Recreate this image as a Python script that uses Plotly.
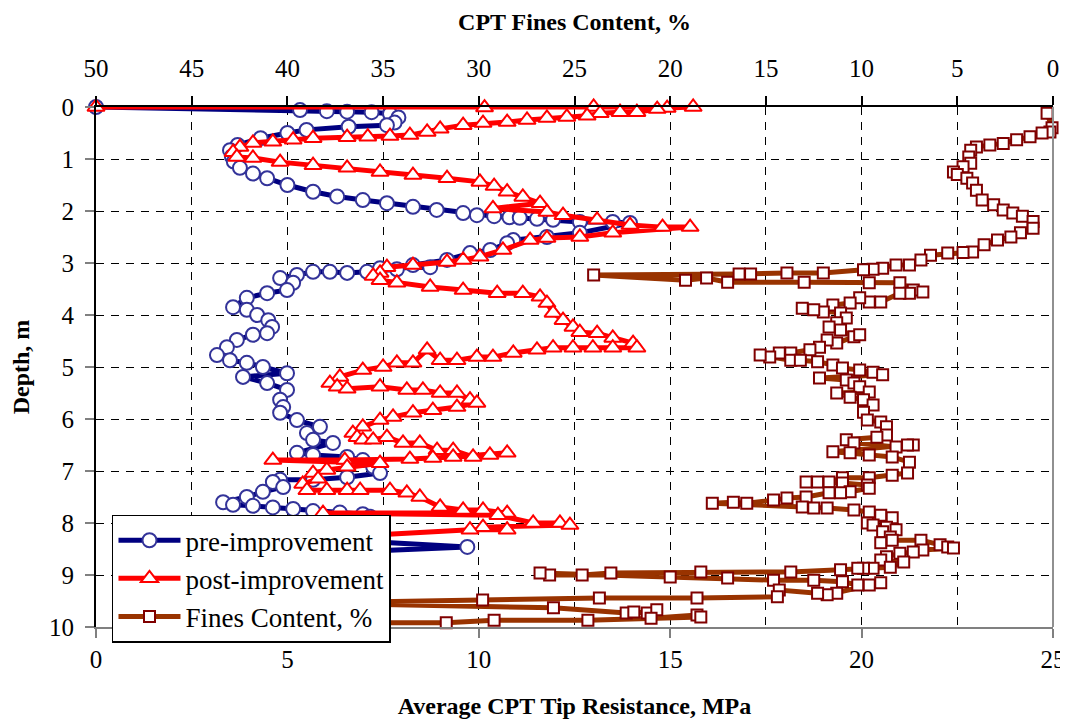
import plotly.graph_objects as go

# ---------------- data ----------------
pre_depth = [0.00, 0.06, 0.08, 0.09, 0.10, 0.13, 0.20, 0.30, 0.35, 0.38, 0.44, 0.50, 0.60, 0.73, 0.83,
             0.95, 1.05, 1.17, 1.28, 1.37, 1.50, 1.63, 1.72, 1.79, 1.85, 1.92, 1.98, 2.04, 2.08, 2.10,
             2.12, 2.13, 2.15, 2.17, 2.21, 2.21, 2.23, 2.42, 2.50, 2.56, 2.62, 2.75, 2.81, 2.94, 3.04,
             3.08, 3.10, 3.12, 3.17, 3.19, 3.17, 3.17, 3.23, 3.29, 3.38, 3.52, 3.58, 3.67, 3.85, 3.90,
             4.00, 4.10, 4.23, 4.35, 4.38, 4.48, 4.62, 4.77, 4.87, 4.92, 5.00, 5.12, 5.19, 5.31, 5.44,
             5.63, 5.77, 5.88, 6.02, 6.15, 6.27, 6.40, 6.46, 6.65, 6.69, 6.73, 6.79, 6.92, 7.04, 7.12,
             7.17, 7.17, 7.21, 7.31, 7.40, 7.50, 7.60, 7.65, 7.67, 7.70, 7.73, 7.77, 7.80, 7.83, 7.88,
             7.95, 8.05, 8.15, 8.25, 8.35, 8.46, 8.55, 8.65, 8.80, 8.95, 9.10, 9.25, 9.40, 9.55, 9.70,
             9.92, 10.02]
pre_q = [0.0, 5.33, 6.03, 6.56, 7.2, 7.68, 7.9, 7.8, 7.6, 6.6, 5.5, 5.0, 4.3, 3.7, 3.5,
         3.55, 3.6, 3.76, 4.1, 4.47, 5.0, 5.67, 6.3, 6.97, 7.6, 8.28, 8.9, 9.59, 9.95, 10.4,
         10.8, 11.07, 11.52, 11.94, 12.64, 13.5, 13.95, 12.64, 11.78, 10.9, 10.74, 10.3, 9.77, 9.17, 8.28,
         8.73, 7.42, 7.86, 7.08, 6.56, 6.11, 5.67, 5.25, 4.81, 5.15, 4.99, 4.47, 3.94, 3.58, 3.94,
         4.21, 4.5, 4.6, 4.47, 4.1, 3.68, 3.42, 3.16, 3.5, 3.94, 4.36, 4.99, 3.84, 4.47, 4.99,
         4.81, 4.89, 4.81, 5.25, 5.85, 5.51, 5.67, 6.19, 5.25, 5.67, 6.56, 6.97, 7.24, 7.42, 6.56,
         5.67, 4.81, 4.62, 4.89, 4.36, 3.94, 3.32, 3.58, 4.1, 4.62, 5.15, 5.67, 6.37, 6.97, 7.16,
         6.9, 6.7, 6.9, 6.8, 7.0, 9.7, 6.9, 6.5, 6.2, 5.8, 5.4, 5.0, 4.7, 4.3, 3.8,
         3.2, 1.36]

post_depth = [0.00, 0.01, 0.00, 0.00, 0.02, 0.04, 0.10, 0.10, 0.12, 0.17, 0.19, 0.21, 0.25, 0.29, 0.31,
              0.35, 0.42, 0.48, 0.54, 0.56, 0.57, 0.58, 0.60, 0.63, 0.67, 0.69, 0.77, 0.87, 0.96, 0.98,
              1.06, 1.12, 1.17, 1.25, 1.31, 1.37, 1.44, 1.52, 1.63, 1.73, 1.85, 1.95, 2.02, 2.08, 2.17,
              2.27, 2.31, 2.31, 2.42, 2.50, 2.52, 2.56, 2.75, 2.88, 2.94, 2.98, 3.04, 3.08, 3.19, 3.25,
              3.33, 3.38, 3.46, 3.52, 3.58, 3.58, 3.65, 3.77, 3.96, 4.10, 4.23, 4.33, 4.35, 4.44, 4.54,
              4.63, 4.63, 4.63, 4.63, 4.63, 4.67, 4.73, 4.81, 4.81, 4.87, 4.87, 4.67, 4.92, 4.92, 5.00,
              5.06, 5.19, 5.31, 5.38, 5.42, 5.38, 5.44, 5.44, 5.50, 5.50, 5.63, 5.69, 5.77, 5.83, 5.88,
              5.96, 6.02, 6.15, 6.27, 6.35, 6.40, 6.40, 6.35, 6.46, 6.46, 6.60, 6.60, 6.73, 6.69, 6.65,
              6.73, 6.75, 6.77, 6.79, 6.79, 6.85, 6.92, 6.98, 7.04, 7.15, 7.25, 7.37, 7.37, 7.37, 7.37,
              7.37, 7.42, 7.50, 7.69, 7.75, 7.75, 7.81, 7.81, 7.85, 8.00, 8.00, 8.04, 8.08, 8.13, 8.13,
              8.25, 8.40, 8.60, 8.80, 9.00, 9.20, 9.40, 9.60, 9.78]
post_q = [0.0, 10.15, 13.0, 15.6, 14.92, 14.66, 14.13, 13.69, 13.17, 12.83, 12.3, 11.78, 11.26, 10.74, 10.11,
          9.59, 8.99, 8.65, 8.2, 7.68, 7.1, 6.56, 5.67, 5.15, 4.62, 4.1, 3.76, 3.58, 3.68, 4.1,
          4.81, 5.67, 6.56, 7.42, 8.28, 9.17, 10.03, 10.4, 10.74, 11.15, 11.6, 10.37, 11.78, 12.2, 13.09,
          13.95, 14.8, 15.52, 13.5, 12.64, 11.78, 11.34, 10.63, 10.03, 9.59, 9.17, 8.28, 7.6, 7.42, 7.24,
          7.42, 7.86, 8.73, 9.59, 10.48, 11.15, 11.6, 11.78, 11.94, 12.2, 12.46, 12.64, 13.09, 13.5, 14.03,
          14.13, 13.5, 12.98, 12.46, 11.94, 11.52, 10.9, 10.37, 9.95, 9.43, 8.99, 8.65, 8.28, 7.86, 7.5,
          6.97, 6.37, 6.11, 6.3, 6.56, 7.42, 8.12, 8.54, 8.99, 9.43, 9.77, 9.95, 9.43, 8.8, 8.28,
          7.76, 7.42, 6.97, 6.71, 6.82, 6.97, 7.24, 7.6, 8.02, 8.46, 8.91, 9.33, 9.85, 10.29, 10.74,
          9.33, 8.8, 8.2, 6.5, 4.62, 7.42, 6.56, 6.03, 5.67, 5.8, 5.4, 5.51, 6.03, 6.56, 6.9,
          7.68, 8.12, 8.46, 8.99, 9.59, 10.11, 10.74, 5.93, 10.5, 11.42, 12.12, 12.38, 10.11, 10.74, 9.77,
          6.8, 6.2, 5.9, 5.5, 6.0, 5.2, 4.9, 5.3, 4.8]

fines_depth = [0.12, 0.40, 0.48, 0.50, 0.57, 0.63, 0.70, 0.73, 0.77, 0.83, 0.96, 1.08, 1.15, 1.25, 1.30,
               1.37, 1.46, 1.60, 1.79, 1.88, 1.98, 2.04, 2.10, 2.20, 2.33, 2.42, 2.50, 2.56, 2.65, 2.79,
               2.80, 2.81, 2.85, 2.94, 3.04, 3.04, 3.10, 3.12, 3.13, 3.19, 3.19, 3.21, 3.21, 3.23, 3.33,
               3.29, 3.37, 3.37, 3.38, 3.38, 3.52, 3.56, 3.58, 3.58, 3.75, 3.75, 3.67, 3.77, 3.81, 3.94,
               3.90, 3.87, 3.96, 4.06, 4.15, 4.23, 4.29, 4.42, 4.38, 4.54, 4.48, 4.62, 4.67, 4.73, 4.73,
               4.81, 4.77, 4.87, 4.87, 4.90, 4.96, 5.02, 5.06, 5.10, 5.15, 5.21, 5.25, 5.31, 5.38, 5.48,
               5.50, 5.58, 5.63, 5.73, 5.87, 6.02, 6.06, 6.15, 6.31, 6.35, 6.40, 6.46, 6.54, 6.50, 6.50,
               6.63, 6.65, 6.69, 6.73, 6.83, 7.04, 7.08, 7.13, 7.13, 7.21, 7.21, 7.21, 7.23, 7.27, 7.33,
               7.40, 7.42, 7.42, 7.50, 7.52, 7.56, 7.62, 7.60, 7.62, 7.69, 7.71, 7.71, 7.75, 7.79, 7.85,
               7.90, 8.00, 8.04, 8.08, 8.13, 8.17, 8.27, 8.38, 8.33, 8.33, 8.42, 8.46, 8.48, 8.52, 8.56,
               8.58, 8.65, 8.71, 8.75, 8.85, 8.87, 8.87, 8.87, 8.90, 8.94, 8.94, 8.96, 9.00, 9.00, 8.96,
               9.04, 9.06, 9.10, 9.10, 9.13, 9.19, 9.19, 9.15, 9.35, 9.38, 9.35, 9.29, 9.42, 9.44, 9.44,
               9.48, 9.54, 9.63, 9.73, 9.71, 9.73, 9.67, 9.83, 9.77, 9.81, 9.87, 9.87, 9.92, 9.92, 9.96,
               10.02]
fines_pct = [0.31, 0.05, 0.16, 0.57, 1.2, 1.9, 2.6, 3.3, 4.0, 4.3, 4.4, 4.3, 4.7, 5.2, 5.0,
             4.5, 4.2, 4.0, 3.7, 3.1, 2.6, 2.1, 1.6, 1.04, 1.04, 1.7, 2.2, 2.9, 3.6, 4.2,
             4.7, 5.5, 6.4, 6.9, 7.5, 8.2, 8.9, 9.4, 9.9, 12.0, 13.9, 15.8, 16.4, 24.0, 19.2,
             18.1, 17.0, 13.0, 9.6, 8.0, 7.3, 6.8, 7.5, 8.0, 9.0, 9.6, 10.1, 10.6, 11.5, 12.0,
             12.5, 13.1, 11.1, 10.8, 11.3, 11.7, 11.1, 10.4, 10.1, 11.3, 11.8, 12.2, 12.7, 13.7, 14.3,
             14.8, 15.3, 13.7, 13.2, 12.3, 11.5, 11.0, 10.1, 9.4, 8.9, 12.2, 10.8, 10.4, 10.1, 9.6,
             11.3, 10.6, 9.9, 9.4, 9.9, 9.7, 9.0, 8.7, 8.7, 9.2, 10.8, 10.4, 8.2, 7.3, 7.6,
             11.5, 10.6, 9.6, 8.4, 7.5, 7.6, 8.4, 9.6, 11.0, 11.7, 12.3, 12.9, 11.0, 9.7, 9.6,
             10.6, 11.1, 11.7, 12.9, 13.9, 14.6, 16.0, 16.7, 17.8, 13.1, 12.5, 11.8, 10.4, 9.6, 9.0,
             8.4, 9.7, 9.4, 8.7, 8.2, 8.9, 8.5, 9.0, 8.4, 6.9, 5.9, 5.5, 5.2, 6.8, 7.3,
             8.0, 8.7, 9.0, 7.8, 8.5, 9.4, 9.9, 10.2, 11.1, 13.7, 18.4, 23.1, 24.6, 26.3, 26.8,
             20.0, 17.0, 14.6, 12.5, 11.0, 10.2, 9.6, 9.0, 11.3, 11.8, 12.3, 14.3, 14.4, 18.6, 23.7,
             29.8, 39.0, 26.1, 22.3, 21.9, 21.2, 20.7, 21.0, 18.6, 18.4, 24.3, 29.2, 31.7, 37.3, 38.3,
             47.7]

series_names = ["pre-improvement", "post-improvement", "Fines Content, %"]

# ---------------- figure ----------------
FONT = "Liberation Serif, Times New Roman, serif"
fig = go.Figure()

fig.add_trace(go.Scatter(
    x=pre_q, y=pre_depth, name=series_names[0], mode="lines+markers",
    line=dict(color="#000080", width=5),
    marker=dict(symbol="circle", size=14, color="white", line=dict(color="#333399", width=2)),
    cliponaxis=False, xaxis="x", yaxis="y"))

fig.add_trace(go.Scatter(
    x=post_q, y=post_depth, name=series_names[1], mode="lines+markers",
    line=dict(color="#FF0000", width=5),
    marker=dict(symbol="triangle-up", size=15, color="white", line=dict(color="#FF0000", width=2)),
    cliponaxis=False, xaxis="x", yaxis="y"))

fig.add_trace(go.Scatter(
    x=fines_pct, y=fines_depth, name=series_names[2], mode="lines+markers",
    line=dict(color="#993300", width=5),
    marker=dict(symbol="square", size=11, color="white", line=dict(color="#800000", width=2)),
    cliponaxis=False, xaxis="x2", yaxis="y"))

# page body adds an 8px offset, so the figure is 8px smaller and margins shifted
fig.update_layout(
    width=1060, height=711,
    margin=dict(l=88, r=15, t=99, b=92, autoexpand=False),
    paper_bgcolor="white", plot_bgcolor="white",
    font=dict(family=FONT, size=25, color="black"),
    showlegend=True,
    legend=dict(x=0.0167, y=0.216, xanchor="left", yanchor="top",
                bgcolor="white", bordercolor="black", borderwidth=1.5,
                font=dict(family=FONT, size=27, color="black"),
                tracegroupgap=0, itemwidth=62),
    xaxis=dict(range=[0, 25], dtick=5, tick0=0, showgrid=False, zeroline=False,
               automargin=False,
               ticks="outside", ticklen=9, tickcolor="#808080", tickwidth=1.5,
               showline=True, linecolor="#808080", linewidth=2,
               tickfont=dict(family=FONT, size=25),
               title=dict(text="<b>Average CPT Tip Resistance, MPa</b>", standoff=26,
                          font=dict(family=FONT, size=24))),
    xaxis2=dict(range=[50, 0], dtick=5, tick0=0, overlaying="x", side="top",
                automargin=False,
                showgrid=True, gridcolor="black", gridwidth=1, griddash="8px,7px",
                zeroline=False, ticks="outside", ticklen=9, tickcolor="black", tickwidth=1.5,
                ticklabelstandoff=9,
                showline=True, linecolor="black", linewidth=2,
                tickfont=dict(family=FONT, size=25),
                title=dict(text="<b>CPT Fines Content, %</b>", standoff=18,
                           font=dict(family=FONT, size=24))),
    yaxis=dict(range=[10, 0], dtick=1, tick0=0, showgrid=True, gridcolor="black",
               automargin=False,
               gridwidth=1, griddash="8px,7px", zeroline=False,
               ticks="outside", ticklen=9, tickcolor="#808080", tickwidth=1.5,
               ticklabelstandoff=6,
               showline=True, linecolor="black", linewidth=2,
               tickfont=dict(family=FONT, size=25),
               title=dict(text="<b>Depth, m</b>", standoff=13,
                          font=dict(family=FONT, size=24))),
    shapes=[dict(type="line", xref="paper", yref="paper", x0=1, x1=1, y0=0, y1=1,
                 line=dict(color="#909090", width=2), layer="above")],
)

fig.write_html("out.html")
